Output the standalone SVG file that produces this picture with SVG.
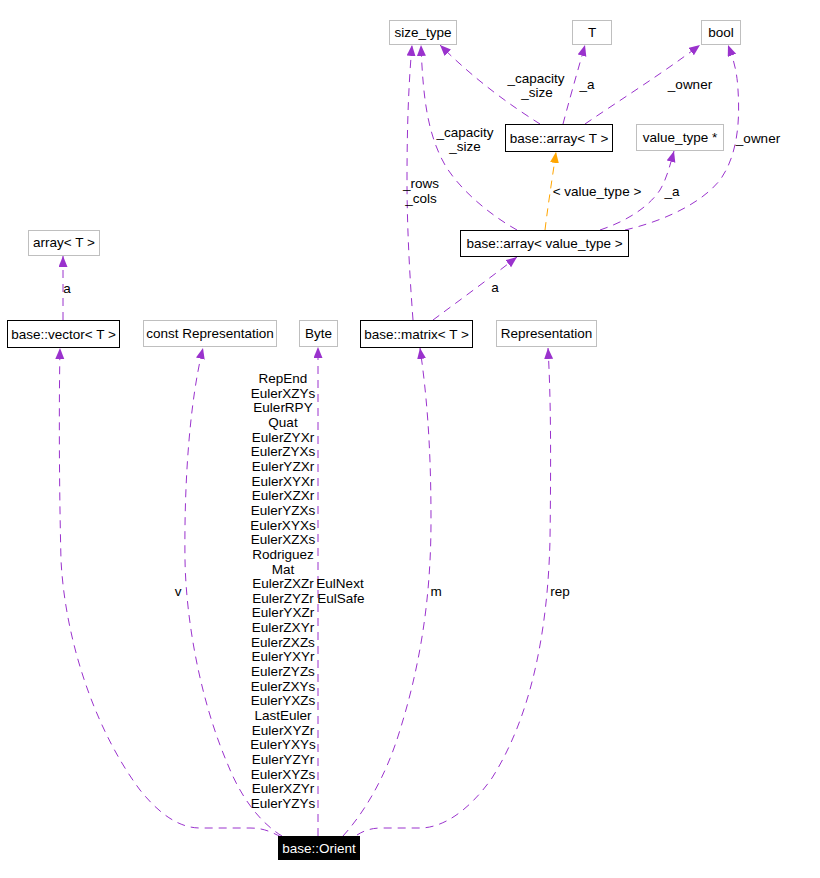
<svg xmlns="http://www.w3.org/2000/svg" width="820" height="878" viewBox="0 0 820 878">
<style>
text{font-family:"Liberation Sans",Arial,sans-serif;font-size:13.5px;fill:#000}
.n text{text-anchor:middle}
.doc{fill:#fff;stroke:#000;stroke-width:1}
.und{fill:#fff;stroke:#bfbfbf;stroke-width:1}
.e{fill:none;stroke:#9a32cd;stroke-width:1;stroke-dasharray:8,6;marker-end:url(#ap)}
.eo{fill:none;stroke:#ffa500;stroke-width:1;stroke-dasharray:8,6;marker-end:url(#ao)}
.lbl text{text-anchor:middle}
</style>
<defs>
<marker id="ap" markerUnits="userSpaceOnUse" markerWidth="12" markerHeight="10" refX="11" refY="4.5" orient="auto"><path d="M0,0 L11,4.5 L0,9 z" fill="#9a32cd"/></marker>
<marker id="ao" markerUnits="userSpaceOnUse" markerWidth="12" markerHeight="10" refX="11" refY="4.5" orient="auto"><path d="M0,0 L11,4.5 L0,9 z" fill="#ffa500"/></marker>
</defs>
<rect width="820" height="878" fill="#fff"/>
<g id="edges">
<path class="e" d="M63,320 L63,256"/>
<path class="e" d="M281,837 C270,831 262,828 250,828 L200,828 C180,828 160,815 140,790 C95,730 65,640 61,560 C59,480 59,400 60,348"/>
<path class="e" d="M282,836 C262,824 242,800 228,765 C200,700 186,620 185,560 C184,480 190,400 203,348"/>
<path class="e" d="M318,836 L318,347"/>
<path class="e" d="M343,836 C362,815 385,780 400,730 C425,650 431,580 431,520 C431,440 426,390 420,348"/>
<path class="e" d="M357,835 C365,830 372,828 382,828 L420,828 C442,828 468,812 492,778 C535,710 548,620 550,540 C551,460 551,400 548,348"/>
<path class="e" d="M413,320 C410,280 407,230 407,180 C407,120 409,80 412,45"/>
<path class="e" d="M433,320 C460,300 490,278 517,257"/>
<path class="e" d="M517,230 C490,215 460,190 445,165 C428,135 423,100 421,45"/>
<path class="eo" d="M545,230 C548,205 552,180 556,152"/>
<path class="e" d="M600,230 C630,220 650,205 660,190 C667,178 670,165 674,151"/>
<path class="e" d="M625,230 C660,222 700,205 720,180 C738,155 740,120 738,90 C737,70 733,58 728,45"/>
<path class="e" d="M540,124 C510,105 475,80 440,45"/>
<path class="e" d="M563,124 C568,105 575,80 585,45"/>
<path class="e" d="M585,124 C620,100 660,75 700,45"/>
</g>
<g id="labels" class="lbl">
<text x="67" y="293">a</text>
<text x="536" y="83">_capacity</text>
<text x="537" y="97">_size</text>
<text x="587" y="89">_a</text>
<text x="690" y="89">_owner</text>
<text x="465" y="137">_capacity</text>
<text x="465" y="151">_size</text>
<text x="758" y="143">_owner</text>
<text x="421" y="188">_rows</text>
<text x="421" y="203">_cols</text>
<text x="597" y="196">&lt; value_type &gt;</text>
<text x="672" y="196">_a</text>
<text x="495" y="292">a</text>
<text x="178" y="596">v</text>
<text x="436" y="596">m</text>
<text x="560" y="596">rep</text>
<text x="340" y="588">EulNext</text>
<text x="341" y="603">EulSafe</text>
<text x="283" y="383">RepEnd</text>
<text x="283" y="397.7">EulerXZYs</text>
<text x="283" y="412.3">EulerRPY</text>
<text x="283" y="427">Quat</text>
<text x="283" y="441.6">EulerZYXr</text>
<text x="283" y="456.3">EulerZYXs</text>
<text x="283" y="470.9">EulerYZXr</text>
<text x="283" y="485.6">EulerXYXr</text>
<text x="283" y="500.2">EulerXZXr</text>
<text x="283" y="514.9">EulerYZXs</text>
<text x="283" y="529.5">EulerXYXs</text>
<text x="283" y="544.2">EulerXZXs</text>
<text x="283" y="558.8">Rodriguez</text>
<text x="283" y="573.5">Mat</text>
<text x="283" y="588.1">EulerZXZr</text>
<text x="283" y="602.8">EulerZYZr</text>
<text x="283" y="617.4">EulerYXZr</text>
<text x="283" y="632.1">EulerZXYr</text>
<text x="283" y="646.7">EulerZXZs</text>
<text x="283" y="661.4">EulerYXYr</text>
<text x="283" y="676">EulerZYZs</text>
<text x="283" y="690.7">EulerZXYs</text>
<text x="283" y="705.3">EulerYXZs</text>
<text x="283" y="720">LastEuler</text>
<text x="283" y="734.6">EulerXYZr</text>
<text x="283" y="749.3">EulerYXYs</text>
<text x="283" y="763.9">EulerYZYr</text>
<text x="283" y="778.6">EulerXYZs</text>
<text x="283" y="793.2">EulerXZYr</text>
<text x="283" y="807.9">EulerYZYs</text>
</g>
<g id="size_type" class="n"><rect class="und" x="389.5" y="20.5" width="67" height="24"/><text x="423" y="37">size_type</text></g>
<g id="T" class="n"><rect class="und" x="572.5" y="20.5" width="39" height="24"/><text x="592" y="37">T</text></g>
<g id="bool" class="n"><rect class="und" x="701.5" y="20.5" width="39" height="24"/><text x="721" y="37">bool</text></g>
<g id="base_array_T" class="n"><rect class="doc" x="505.5" y="124.5" width="107" height="27"/><text x="559" y="143">base::array&lt; T &gt;</text></g>
<g id="value_type_ptr" class="n"><rect class="und" x="636.5" y="124.5" width="87" height="26"/><text x="680" y="142">value_type *</text></g>
<g id="base_array_value_type" class="n"><rect class="doc" x="460.5" y="230.5" width="168" height="26"/><text x="544.5" y="248">base::array&lt; value_type &gt;</text></g>
<g id="array_T" class="n"><rect class="und" x="28.5" y="230.5" width="71" height="25"/><text x="64" y="247">array&lt; T &gt;</text></g>
<g id="base_vector_T" class="n"><rect class="doc" x="7.5" y="320.5" width="112" height="27"/><text x="63.5" y="339">base::vector&lt; T &gt;</text></g>
<g id="const_Representation" class="n"><rect class="und" x="143.5" y="320.5" width="133" height="26"/><text x="210" y="338">const Representation</text></g>
<g id="Byte" class="n"><rect class="und" x="299.5" y="320.5" width="38" height="26"/><text x="318.5" y="338">Byte</text></g>
<g id="base_matrix_T" class="n"><rect class="doc" x="360.5" y="320.5" width="112" height="27"/><text x="416.5" y="339">base::matrix&lt; T &gt;</text></g>
<g id="Representation" class="n"><rect class="und" x="496.5" y="320.5" width="100" height="26"/><text x="546.5" y="338">Representation</text></g>
<g id="base_Orient" class="n"><rect x="278" y="836" width="82" height="24" fill="#000"/><text x="319" y="853" style="fill:#fff">base::Orient</text></g>
</svg>
